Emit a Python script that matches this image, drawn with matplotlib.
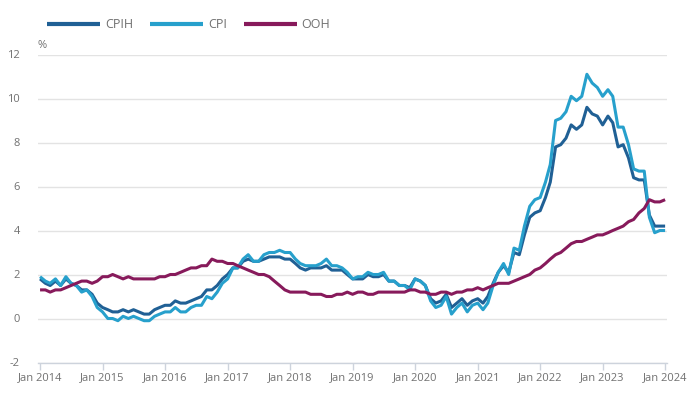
import matplotlib
matplotlib.use("Agg")
import matplotlib.pyplot as plt
import pandas as pd

months = pd.date_range("2014-01-01", "2024-01-01", freq="MS")

cpih = [1.8, 1.6, 1.5, 1.7, 1.5, 1.8, 1.6, 1.5, 1.3, 1.3, 1.1, 0.7,
        0.5, 0.4, 0.3, 0.3, 0.4, 0.3, 0.4, 0.3, 0.2, 0.2, 0.4, 0.5,
        0.6, 0.6, 0.8, 0.7, 0.7, 0.8, 0.9, 1.0, 1.3, 1.3, 1.5, 1.8,
        2.0, 2.3, 2.3, 2.6, 2.7, 2.6, 2.6, 2.7, 2.8, 2.8, 2.8, 2.7,
        2.7, 2.5, 2.3, 2.2, 2.3, 2.3, 2.3, 2.4, 2.2, 2.2, 2.2, 2.0,
        1.8, 1.8, 1.8, 2.0, 1.9, 1.9, 2.0, 1.7, 1.7, 1.5, 1.5, 1.4,
        1.8, 1.7, 1.5, 0.9, 0.7, 0.8, 1.1, 0.5, 0.7, 0.9, 0.6, 0.8,
        0.9, 0.7, 1.0, 1.6, 2.1, 2.4, 2.1, 3.0, 2.9, 3.8, 4.6, 4.8,
        4.9, 5.5, 6.2, 7.8, 7.9, 8.2, 8.8, 8.6, 8.8, 9.6, 9.3, 9.2,
        8.8, 9.2, 8.9, 7.8, 7.9, 7.3, 6.4, 6.3, 6.3, 4.7, 4.2, 4.2,
        4.2]

cpi = [1.9, 1.7, 1.6, 1.8, 1.5, 1.9, 1.6, 1.5, 1.2, 1.3, 1.0, 0.5,
       0.3, 0.0, 0.0, -0.1, 0.1, 0.0, 0.1, 0.0, -0.1, -0.1, 0.1, 0.2,
       0.3, 0.3, 0.5, 0.3, 0.3, 0.5, 0.6, 0.6, 1.0, 0.9, 1.2, 1.6,
       1.8, 2.3, 2.3, 2.7, 2.9, 2.6, 2.6, 2.9, 3.0, 3.0, 3.1, 3.0,
       3.0, 2.7, 2.5, 2.4, 2.4, 2.4, 2.5, 2.7, 2.4, 2.4, 2.3, 2.1,
       1.8, 1.9, 1.9, 2.1, 2.0, 2.0, 2.1, 1.7, 1.7, 1.5, 1.5, 1.3,
       1.8, 1.7, 1.5, 0.8, 0.5, 0.6, 1.0, 0.2, 0.5, 0.7, 0.3, 0.6,
       0.7, 0.4, 0.7, 1.5, 2.1, 2.5, 2.0, 3.2, 3.1, 4.2, 5.1, 5.4,
       5.5, 6.2, 7.0, 9.0, 9.1, 9.4, 10.1, 9.9, 10.1, 11.1, 10.7, 10.5,
       10.1, 10.4, 10.1, 8.7, 8.7, 7.9, 6.8, 6.7, 6.7, 4.6, 3.9, 4.0,
       4.0]

ooh = [1.3, 1.3, 1.2, 1.3, 1.3, 1.4, 1.5, 1.6, 1.7, 1.7, 1.6, 1.7,
       1.9, 1.9, 2.0, 1.9, 1.8, 1.9, 1.8, 1.8, 1.8, 1.8, 1.8, 1.9,
       1.9, 2.0, 2.0, 2.1, 2.2, 2.3, 2.3, 2.4, 2.4, 2.7, 2.6, 2.6,
       2.5, 2.5, 2.4, 2.3, 2.2, 2.1, 2.0, 2.0, 1.9, 1.7, 1.5, 1.3,
       1.2, 1.2, 1.2, 1.2, 1.1, 1.1, 1.1, 1.0, 1.0, 1.1, 1.1, 1.2,
       1.1, 1.2, 1.2, 1.1, 1.1, 1.2, 1.2, 1.2, 1.2, 1.2, 1.2, 1.3,
       1.3, 1.2, 1.2, 1.1, 1.1, 1.2, 1.2, 1.1, 1.2, 1.2, 1.3, 1.3,
       1.4, 1.3, 1.4, 1.5, 1.6, 1.6, 1.6, 1.7, 1.8, 1.9, 2.0, 2.2,
       2.3, 2.5, 2.7, 2.9, 3.0, 3.2, 3.4, 3.5, 3.5, 3.6, 3.7, 3.8,
       3.8, 3.9, 4.0, 4.1, 4.2, 4.4, 4.5, 4.8, 5.0, 5.4, 5.3, 5.3,
       5.4]

series_names = ["CPIH", "CPI", "OOH"]
colors = ["#206095", "#27a0cc", "#871a5b"]
yticks = [-2, 0, 2, 4, 6, 8, 10, 12]
xtick_years = list(range(2014, 2025))

plt.rcParams["font.family"] = ["Open Sans", "DejaVu Sans"]
fig = plt.figure(figsize=(6.95, 4.03), dpi=100)
ax = fig.add_axes([38 / 695, 40.5 / 403, (667 - 38) / 695, (348.5 - 40.5) / 403])

for name, vals, c in zip(series_names, [cpih, cpi, ooh], colors):
    ax.plot(months, vals, color=c, lw=2.2, label=name, solid_joinstyle="round", solid_capstyle="butt")

ax.set_ylim(-2, 12)
ax.set_yticks(yticks)
ax.set_yticklabels([str(v) for v in yticks])
ax.set_xlim(pd.Timestamp("2013-12-20"), pd.Timestamp("2024-01-12"))
xt = [pd.Timestamp(f"{y}-01-01") for y in xtick_years]
ax.set_xticks(xt)
ax.set_xticklabels([f"Jan {y}" for y in xtick_years])

ax.grid(axis="y", color="#e3e3e3", lw=1)
ax.set_axisbelow(True)
for s in ["top", "right", "left"]:
    ax.spines[s].set_visible(False)
ax.spines["bottom"].set_color("#cdd3dc")
ax.spines["bottom"].set_linewidth(1)
ax.tick_params(axis="y", length=0, pad=13, labelsize=8, labelcolor="#707070")
ax.tick_params(axis="x", length=5, width=1, color="#cdd3dc", pad=2, labelsize=8, labelcolor="#707070")

ax.text(0.0, 1.012, "%", transform=ax.transAxes, fontsize=8, color="#707070", ha="left", va="bottom")

leg = fig.legend(loc="upper left", bbox_to_anchor=(36 / 695, 1 - 7 / 403), ncol=3, frameon=False,
                 handlelength=4.2, handletextpad=0.4, columnspacing=1.4, fontsize=9)
for line in leg.get_lines():
    line.set_linewidth(3)
for t in leg.get_texts():
    t.set_color("#707070")

fig.savefig("out.png", dpi=100)
